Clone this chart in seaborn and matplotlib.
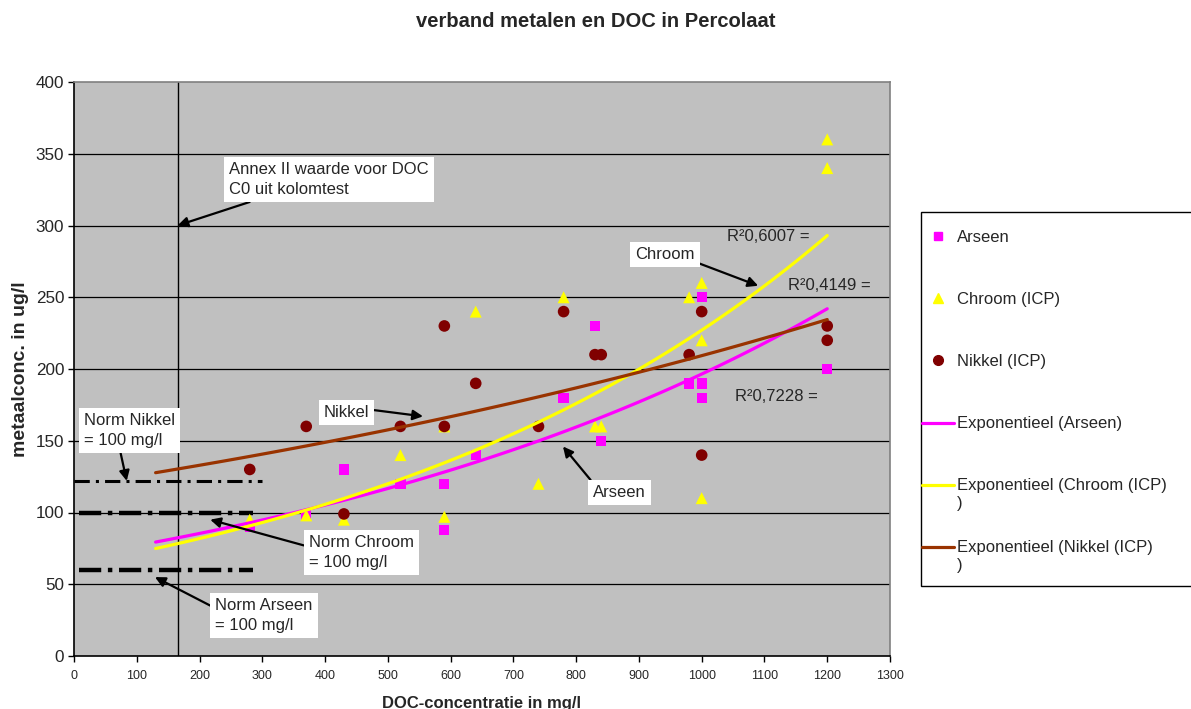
import numpy as np
import pandas as pd
import seaborn as sns
import matplotlib.pyplot as plt
from matplotlib.lines import Line2D
from matplotlib.patches import Rectangle
from matplotlib.legend_handler import HandlerLine2D

# measured points (DOC in mg/l, metal conc. in ug/l)
arseen_doc = [280, 370, 430, 520, 590, 590, 640, 780, 830, 840, 980, 1000, 1000, 1000, 1200]
arseen_val = [90, 98, 130, 120, 120, 88, 140, 180, 230, 150, 190, 190, 180, 250, 200]

chroom_doc = [280, 370, 430, 520, 590, 590, 640, 740, 780, 830, 840, 980, 1000, 1000, 1000, 1200, 1200]
chroom_val = [95, 98, 95, 140, 97, 160, 240, 120, 250, 160, 160, 250, 260, 220, 110, 360, 340]

nikkel_doc = [280, 370, 430, 520, 590, 590, 640, 740, 780, 830, 840, 980, 1000, 1000, 1200, 1200]
nikkel_val = [130, 160, 99, 160, 160, 230, 190, 160, 240, 210, 210, 210, 240, 140, 230, 220]

# norm lines and the Annex II DOC value
norm_nikkel, norm_chroom, norm_arseen = 122, 100, 60
annex_doc = 165

r2_labels = {"Chroom": "R\u00b20,6007 =", "Nikkel": "R\u00b20,4149 =", "Arseen": "R\u00b20,7228 ="}

# trendline range (excel backward forecast of 150)
trend_from, trend_to = 130, 1200

sns.set_style("white")
plt.rcParams['font.family'] = ['Liberation Sans', 'DejaVu Sans']


def expfit(x, y):
    # excel style exponential trendline: least squares on log(y)
    b, ln_a = np.polyfit(np.array(x, float), np.log(np.array(y, float)), 1)
    xs = np.linspace(trend_from, trend_to, 100)
    return pd.DataFrame({"x": xs, "y": np.exp(ln_a) * np.exp(b * xs)})


class FirstLineHandler(HandlerLine2D):
    # put the legend symbol next to the first line of a two-line label
    def create_artists(self, legend, orig_handle, xdescent, ydescent, width, height, fontsize, trans):
        return super().create_artists(legend, orig_handle, xdescent, ydescent - 1.2 * fontsize,
                                      width, height, fontsize, trans)


fig = plt.figure(figsize=(11.91, 7.09), dpi=100)
ax = fig.add_axes([74 / 1191, 53 / 709, 816 / 1191, 574 / 709])
ax.set_facecolor('#c0c0c0')

for y in range(50, 400, 50):
    ax.axhline(y, color='black', lw=0.9, zorder=1)
ax.axvline(annex_doc, color='black', lw=1.0, zorder=1)

# norm lines
ax.plot([0, 300], [norm_nikkel, norm_nikkel], color='black', lw=2.2,
        dashes=(5, 2, 1, 2), zorder=2)
ax.plot([8, 285], [norm_chroom, norm_chroom], color='black', lw=3.2,
        dashes=(5, 1.5, 1, 1.5), zorder=2)
ax.plot([8, 285], [norm_arseen, norm_arseen], color='black', lw=3.2,
        dashes=(5, 1.5, 1, 1.5), zorder=2)

sns.scatterplot(x=arseen_doc, y=arseen_val, ax=ax, marker='s', s=55, color='#ff00ff',
                edgecolor='none', linewidth=0, zorder=3)
sns.scatterplot(x=chroom_doc, y=chroom_val, ax=ax, marker='^', s=75, color='#ffff00',
                edgecolor='none', linewidth=0, zorder=3)
sns.scatterplot(x=nikkel_doc, y=nikkel_val, ax=ax, marker='o', s=70, color='#800000',
                edgecolor='none', linewidth=0, zorder=3)

sns.lineplot(data=expfit(arseen_doc, arseen_val), x="x", y="y", ax=ax, color='#ff00ff', lw=2.3, zorder=4)
sns.lineplot(data=expfit(chroom_doc, chroom_val), x="x", y="y", ax=ax, color='#ffff00', lw=2.3, zorder=4)
sns.lineplot(data=expfit(nikkel_doc, nikkel_val), x="x", y="y", ax=ax, color='#993300', lw=2.3, zorder=4)

ax.set_xlim(0, 1300)
ax.set_ylim(0, 400)
ax.set_xticks(range(0, 1301, 100))
ax.set_yticks(range(0, 401, 50))
ax.tick_params(axis='x', labelsize=9, direction='out', length=4, width=1, color='black', pad=6)
ax.tick_params(axis='y', labelsize=12.3, direction='out', length=4, width=1, color='black', pad=3)
ax.tick_params(bottom=True, left=True)
for side in ['left', 'bottom']:
    ax.spines[side].set_color('black')
    ax.spines[side].set_linewidth(1.2)
for side in ['top', 'right']:
    ax.spines[side].set_color('#808080')
    ax.spines[side].set_linewidth(1.2)

ax.set_xlabel('DOC-concentratie in mg/l', fontsize=12, fontweight='bold', labelpad=10)
ax.set_ylabel('metaalconc. in ug/l', fontsize=14, fontweight='bold', labelpad=5)
fig.text(0.5, 0.969, 'verband metalen en DOC in Percolaat', fontsize=14.5,
         fontweight='bold', ha='center', va='center')

box = dict(boxstyle='square,pad=0.3', fc='white', ec='none')
arrow = dict(arrowstyle='-|>', color='black', lw=1.6, mutation_scale=15, shrinkA=0, shrinkB=0)


def note(text, xy, xytext, relpos):
    ax.annotate(text, xy=xy, xytext=xytext, fontsize=12, ha='left', va='center', linespacing=1.4,
                bbox=box, arrowprops=dict(arrow, relpos=relpos), zorder=6)


note('Annex II waarde voor DOC\nC0 uit kolomtest', (annex_doc, 300), (247, 332), (0.18, 0))
note('Norm Nikkel\n= 100 mg/l', (84, norm_nikkel), (16, 157), (0.39, 0))
note('Norm Chroom\n= 100 mg/l', (217, 95), (374, 72), (0, 0.67))
note('Norm Arseen\n= 100 mg/l', (129, 55), (225, 28), (0, 0.72))
note('Nikkel', (556, 167), (398, 170), (1, 0.67))
note('Arseen', (779, 146), (827, 114), (0.03, 1))
note('Chroom', (1090, 258), (894, 280), (1, 0))

ax.text(1040, 292, r2_labels["Chroom"], fontsize=12, va='center', zorder=6)
ax.text(1137, 258, r2_labels["Nikkel"], fontsize=12, va='center', zorder=6)
ax.text(1053, 181, r2_labels["Arseen"], fontsize=12, va='center', zorder=6)

# legend
fig.patches.append(Rectangle((921 / 1191, 123 / 709), 0.3, 374 / 709, transform=fig.transFigure,
                             fc='white', ec='black', lw=1.0))
handles = [
    Line2D([], [], ls='none', marker='s', ms=6, color='#ff00ff'),
    Line2D([], [], ls='none', marker='^', ms=7, color='#ffff00'),
    Line2D([], [], ls='none', marker='o', ms=7, color='#800000'),
    Line2D([], [], color='#ff00ff', lw=2.3),
    Line2D([], [], color='#ffff00', lw=2.3),
    Line2D([], [], color='#993300', lw=2.3),
]
# every label two lines high so the rows stay evenly spaced
labels = ['Arseen\n', 'Chroom (ICP)\n', 'Nikkel (ICP)\n', 'Exponentieel (Arseen)\n',
          'Exponentieel (Chroom (ICP)\n)', 'Exponentieel (Nikkel (ICP)\n)']
fig.legend(handles, labels, loc='upper left', bbox_to_anchor=(922 / 1191, 1 - 230 / 709),
           frameon=False, fontsize=12, handlelength=1.9, handletextpad=0.2,
           labelspacing=1.78, borderpad=0, borderaxespad=0,
           handler_map={Line2D: FirstLineHandler()})

fig.savefig('out.png', dpi=100)
